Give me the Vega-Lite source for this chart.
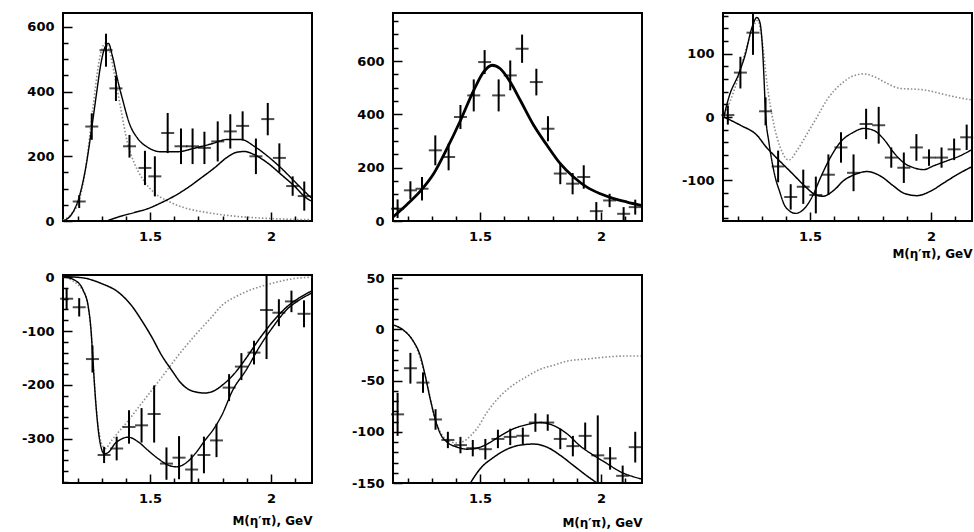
{
  "$schema": "https://vega.github.io/schema/vega-lite/v6.json",
  "background": "white",
  "padding": {"left": 20, "top": 8, "right": 0, "bottom": 0},
  "config": {
    "view": {"stroke": "black", "strokeWidth": 2},
    "axis": {
      "domain": false, "grid": false, "tickColor": "black", "tickWidth": 1.5,
      "labelFont": "DejaVu Sans", "labelFontWeight": "bold", "labelFontSize": 13, "labelColor": "black",
      "labelFlush": false, "labelOverlap": false, "labelPadding": 18,
      "titleFont": "DejaVu Sans", "titleFontWeight": "bold", "titleFontSize": 12, "titleColor": "black"
    },
    "text": {"font": "DejaVu Sans", "fontWeight": "bold", "fontSize": 17, "color": "black"}
  },
  "datasets": {
    "fit_a": [
      {"c":"dot","m":1.14,"v":3},{"c":"dot","m":1.173,"v":20},{"c":"dot","m":1.208,"v":67},{"c":"dot","m":1.235,"v":169},{"c":"dot","m":1.263,"v":344},{"c":"dot","m":1.29,"v":497},{"c":"dot","m":1.314,"v":549},{"c":"dot","m":1.332,"v":528},{"c":"dot","m":1.352,"v":456},{"c":"dot","m":1.38,"v":344},{"c":"dot","m":1.407,"v":241},{"c":"dot","m":1.435,"v":179},{"c":"dot","m":1.476,"v":123},{"c":"dot","m":1.518,"v":87},{"c":"dot","m":1.573,"v":62},{"c":"dot","m":1.642,"v":41},{"c":"dot","m":1.738,"v":26},{"c":"dot","m":1.849,"v":15},{"c":"dot","m":1.987,"v":8},{"c":"dot","m":2.166,"v":4},
      {"c":"part","m":1.32,"v":0},{"c":"part","m":1.38,"v":15},{"c":"part","m":1.435,"v":26},{"c":"part","m":1.49,"v":38},{"c":"part","m":1.545,"v":56},{"c":"part","m":1.6,"v":77},{"c":"part","m":1.656,"v":103},{"c":"part","m":1.711,"v":133},{"c":"part","m":1.766,"v":164},{"c":"part","m":1.821,"v":198},{"c":"part","m":1.856,"v":212},{"c":"part","m":1.89,"v":215},{"c":"part","m":1.931,"v":205},{"c":"part","m":1.987,"v":179},{"c":"part","m":2.042,"v":144},{"c":"part","m":2.097,"v":108},{"c":"part","m":2.145,"v":72},{"c":"part","m":2.166,"v":62},
      {"c":"fit","m":1.14,"v":0},{"c":"fit","m":1.18,"v":26},{"c":"fit","m":1.208,"v":77},{"c":"fit","m":1.235,"v":169},{"c":"fit","m":1.256,"v":272},{"c":"fit","m":1.277,"v":385},{"c":"fit","m":1.297,"v":487},{"c":"fit","m":1.314,"v":538},{"c":"fit","m":1.328,"v":549},{"c":"fit","m":1.345,"v":508},{"c":"fit","m":1.366,"v":436},{"c":"fit","m":1.387,"v":374},{"c":"fit","m":1.414,"v":303},{"c":"fit","m":1.449,"v":255},{"c":"fit","m":1.49,"v":228},{"c":"fit","m":1.545,"v":214},{"c":"fit","m":1.614,"v":214},{"c":"fit","m":1.683,"v":225},{"c":"fit","m":1.752,"v":238},{"c":"fit","m":1.821,"v":252},{"c":"fit","m":1.876,"v":252},{"c":"fit","m":1.931,"v":231},{"c":"fit","m":1.987,"v":200},{"c":"fit","m":2.042,"v":164},{"c":"fit","m":2.097,"v":123},{"c":"fit","m":2.145,"v":87},{"c":"fit","m":2.166,"v":72}
    ],
    "pts_a": [
      {"m":1.207,"v":60,"e":20},{"m":1.259,"v":292,"e":41},{"m":1.318,"v":528,"e":51},{"m":1.359,"v":410,"e":39},{"m":1.415,"v":231,"e":35},{"m":1.479,"v":164,"e":53},{"m":1.52,"v":138,"e":62},{"m":1.573,"v":272,"e":62},{"m":1.628,"v":231,"e":55},{"m":1.676,"v":231,"e":55},{"m":1.725,"v":226,"e":50},{"m":1.78,"v":246,"e":62},{"m":1.832,"v":277,"e":53},{"m":1.883,"v":294,"e":45},{"m":1.938,"v":200,"e":55},{"m":1.987,"v":315,"e":50},{"m":2.035,"v":195,"e":45},{"m":2.09,"v":108,"e":30},{"m":2.138,"v":77,"e":45}
    ],
    "fit_b": [
      {"c":"fit","m":1.14,"v":15},{"c":"fit","m":1.198,"v":62},{"c":"fit","m":1.253,"v":112},{"c":"fit","m":1.308,"v":177},{"c":"fit","m":1.363,"v":271},{"c":"fit","m":1.419,"v":377},{"c":"fit","m":1.474,"v":490},{"c":"fit","m":1.515,"v":559},{"c":"fit","m":1.55,"v":584},{"c":"fit","m":1.584,"v":571},{"c":"fit","m":1.625,"v":521},{"c":"fit","m":1.667,"v":452},{"c":"fit","m":1.722,"v":359},{"c":"fit","m":1.777,"v":284},{"c":"fit","m":1.832,"v":215},{"c":"fit","m":1.887,"v":165},{"c":"fit","m":1.942,"v":127},{"c":"fit","m":1.998,"v":102},{"c":"fit","m":2.053,"v":84},{"c":"fit","m":2.108,"v":71},{"c":"fit","m":2.166,"v":59}
    ],
    "pts_b": [
      {"m":1.159,"v":46,"e":35},{"m":1.212,"v":115,"e":34},{"m":1.26,"v":121,"e":44},{"m":1.315,"v":265,"e":56},{"m":1.37,"v":240,"e":50},{"m":1.419,"v":390,"e":45},{"m":1.474,"v":471,"e":60},{"m":1.519,"v":596,"e":45},{"m":1.577,"v":471,"e":60},{"m":1.625,"v":546,"e":56},{"m":1.674,"v":646,"e":53},{"m":1.733,"v":521,"e":50},{"m":1.781,"v":346,"e":47},{"m":1.832,"v":178,"e":40},{"m":1.883,"v":140,"e":40},{"m":1.929,"v":165,"e":44},{"m":1.981,"v":37,"e":34},{"m":2.036,"v":77,"e":25},{"m":2.094,"v":27,"e":25},{"m":2.142,"v":52,"e":28}
    ],
    "fit_c": [
      {"c":"dot","m":1.143,"v":0},{"c":"dot","m":1.198,"v":56},{"c":"dot","m":1.239,"v":112},{"c":"dot","m":1.267,"v":144},{"c":"dot","m":1.283,"v":152},{"c":"dot","m":1.301,"v":123},{"c":"dot","m":1.322,"v":53},{"c":"dot","m":1.35,"v":-11},{"c":"dot","m":1.377,"v":-48},{"c":"dot","m":1.412,"v":-68},{"c":"dot","m":1.446,"v":-53},{"c":"dot","m":1.487,"v":-27},{"c":"dot","m":1.529,"v":0},{"c":"dot","m":1.57,"v":27},{"c":"dot","m":1.625,"v":51},{"c":"dot","m":1.68,"v":65},{"c":"dot","m":1.722,"v":68},{"c":"dot","m":1.763,"v":64},{"c":"dot","m":1.818,"v":53},{"c":"dot","m":1.873,"v":45},{"c":"dot","m":1.929,"v":44},{"c":"dot","m":1.984,"v":42},{"c":"dot","m":2.039,"v":37},{"c":"dot","m":2.108,"v":31},{"c":"dot","m":2.166,"v":27},
      {"c":"part","m":1.143,"v":0},{"c":"part","m":1.212,"v":-13},{"c":"part","m":1.281,"v":-29},{"c":"part","m":1.32,"v":-48},{"c":"part","m":1.35,"v":-60},{"c":"part","m":1.416,"v":-85},{"c":"part","m":1.487,"v":-112},{"c":"part","m":1.511,"v":-120},{"c":"part","m":1.553,"v":-125},{"c":"part","m":1.6,"v":-115},{"c":"part","m":1.64,"v":-100},{"c":"part","m":1.677,"v":-92},{"c":"part","m":1.736,"v":-86},{"c":"part","m":1.791,"v":-93},{"c":"part","m":1.846,"v":-109},{"c":"part","m":1.887,"v":-120},{"c":"part","m":1.942,"v":-124},{"c":"part","m":1.998,"v":-117},{"c":"part","m":2.053,"v":-104},{"c":"part","m":2.108,"v":-91},{"c":"part","m":2.166,"v":-79},
      {"c":"fit","m":1.143,"v":0},{"c":"fit","m":1.165,"v":32},{"c":"fit","m":1.206,"v":69},{"c":"fit","m":1.234,"v":101},{"c":"fit","m":1.255,"v":135},{"c":"fit","m":1.268,"v":150},{"c":"fit","m":1.28,"v":157},{"c":"fit","m":1.292,"v":150},{"c":"fit","m":1.303,"v":111},{"c":"fit","m":1.31,"v":58},{"c":"fit","m":1.316,"v":6},{"c":"fit","m":1.33,"v":-40},{"c":"fit","m":1.344,"v":-73},{"c":"fit","m":1.358,"v":-98},{"c":"fit","m":1.372,"v":-115},{"c":"fit","m":1.399,"v":-142},{"c":"fit","m":1.441,"v":-152},{"c":"fit","m":1.475,"v":-145},{"c":"fit","m":1.51,"v":-125},{"c":"fit","m":1.543,"v":-96},{"c":"fit","m":1.584,"v":-64},{"c":"fit","m":1.625,"v":-40},{"c":"fit","m":1.68,"v":-24},{"c":"fit","m":1.722,"v":-18},{"c":"fit","m":1.763,"v":-21},{"c":"fit","m":1.805,"v":-35},{"c":"fit","m":1.846,"v":-56},{"c":"fit","m":1.887,"v":-72},{"c":"fit","m":1.929,"v":-80},{"c":"fit","m":1.97,"v":-83},{"c":"fit","m":2.011,"v":-77},{"c":"fit","m":2.067,"v":-69},{"c":"fit","m":2.122,"v":-61},{"c":"fit","m":2.166,"v":-52}
    ],
    "pts_c": [
      {"m":1.16,"v":3,"e":15},{"m":1.212,"v":70,"e":25},{"m":1.264,"v":133,"e":35},{"m":1.316,"v":9,"e":22},{"m":1.368,"v":-78,"e":25},{"m":1.42,"v":-126,"e":20},{"m":1.472,"v":-110,"e":27},{"m":1.524,"v":-123,"e":29},{"m":1.576,"v":-91,"e":32},{"m":1.628,"v":-48,"e":24},{"m":1.68,"v":-88,"e":29},{"m":1.732,"v":-11,"e":24},{"m":1.784,"v":-13,"e":29},{"m":1.836,"v":-64,"e":16},{"m":1.888,"v":-80,"e":24},{"m":1.94,"v":-48,"e":21},{"m":1.992,"v":-64,"e":13},{"m":2.044,"v":-64,"e":16},{"m":2.096,"v":-51,"e":17},{"m":2.148,"v":-32,"e":20}
    ],
    "fit_d": [
      {"c":"dot","m":1.14,"v":1},{"c":"dot","m":1.224,"v":-25},{"c":"dot","m":1.256,"v":-99},{"c":"dot","m":1.277,"v":-241},{"c":"dot","m":1.297,"v":-305},{"c":"dot","m":1.315,"v":-318},{"c":"dot","m":1.341,"v":-303},{"c":"dot","m":1.41,"v":-266},{"c":"dot","m":1.479,"v":-226},{"c":"dot","m":1.548,"v":-186},{"c":"dot","m":1.617,"v":-145},{"c":"dot","m":1.686,"v":-108},{"c":"dot","m":1.755,"v":-74},{"c":"dot","m":1.796,"v":-53},{"c":"dot","m":1.86,"v":-35},{"c":"dot","m":1.926,"v":-22},{"c":"dot","m":2.009,"v":-11},{"c":"dot","m":2.09,"v":-3},{"c":"dot","m":2.167,"v":0},
      {"c":"part","m":1.14,"v":1},{"c":"part","m":1.217,"v":-1},{"c":"part","m":1.3,"v":-12},{"c":"part","m":1.369,"v":-28},{"c":"part","m":1.424,"v":-53},{"c":"part","m":1.465,"v":-80},{"c":"part","m":1.507,"v":-111},{"c":"part","m":1.548,"v":-145},{"c":"part","m":1.59,"v":-173},{"c":"part","m":1.631,"v":-198},{"c":"part","m":1.679,"v":-212},{"c":"part","m":1.727,"v":-215},{"c":"part","m":1.769,"v":-210},{"c":"part","m":1.8,"v":-200},{"c":"part","m":1.843,"v":-182},{"c":"part","m":1.898,"v":-150},{"c":"part","m":1.953,"v":-114},{"c":"part","m":2.009,"v":-82},{"c":"part","m":2.064,"v":-56},{"c":"part","m":2.119,"v":-38},{"c":"part","m":2.167,"v":-26},
      {"c":"fit","m":1.14,"v":1},{"c":"fit","m":1.19,"v":-6},{"c":"fit","m":1.224,"v":-25},{"c":"fit","m":1.245,"v":-56},{"c":"fit","m":1.256,"v":-99},{"c":"fit","m":1.263,"v":-148},{"c":"fit","m":1.27,"v":-198},{"c":"fit","m":1.277,"v":-241},{"c":"fit","m":1.286,"v":-284},{"c":"fit","m":1.297,"v":-315},{"c":"fit","m":1.311,"v":-328},{"c":"fit","m":1.328,"v":-325},{"c":"fit","m":1.355,"v":-309},{"c":"fit","m":1.383,"v":-300},{"c":"fit","m":1.41,"v":-297},{"c":"fit","m":1.452,"v":-306},{"c":"fit","m":1.493,"v":-322},{"c":"fit","m":1.534,"v":-337},{"c":"fit","m":1.576,"v":-349},{"c":"fit","m":1.61,"v":-352},{"c":"fit","m":1.645,"v":-346},{"c":"fit","m":1.686,"v":-328},{"c":"fit","m":1.727,"v":-303},{"c":"fit","m":1.769,"v":-278},{"c":"fit","m":1.796,"v":-257},{"c":"fit","m":1.843,"v":-209},{"c":"fit","m":1.898,"v":-172},{"c":"fit","m":1.953,"v":-129},{"c":"fit","m":2.009,"v":-92},{"c":"fit","m":2.064,"v":-61},{"c":"fit","m":2.119,"v":-42},{"c":"fit","m":2.167,"v":-30}
    ],
    "pts_d": [
      {"m":1.155,"v":-40,"e":20},{"m":1.207,"v":-56,"e":17},{"m":1.262,"v":-152,"e":25},{"m":1.31,"v":-330,"e":15},{"m":1.362,"v":-318,"e":22},{"m":1.413,"v":-278,"e":31},{"m":1.465,"v":-275,"e":32},{"m":1.517,"v":-254,"e":53},{"m":1.568,"v":-346,"e":30},{"m":1.62,"v":-335,"e":40},{"m":1.672,"v":-357,"e":28},{"m":1.723,"v":-330,"e":34},{"m":1.775,"v":-303,"e":31},{"m":1.827,"v":-205,"e":25},{"m":1.878,"v":-166,"e":25},{"m":1.93,"v":-140,"e":22},{"m":1.982,"v":-61,"e":91},{"m":2.033,"v":-66,"e":25},{"m":2.085,"v":-45,"e":20},{"m":2.137,"v":-68,"e":25}
    ],
    "fit_e": [
      {"c":"dot","m":1.145,"v":4},{"c":"dot","m":1.225,"v":-12},{"c":"dot","m":1.274,"v":-46},{"c":"dot","m":1.315,"v":-88},{"c":"dot","m":1.363,"v":-108},{"c":"dot","m":1.405,"v":-111},{"c":"dot","m":1.435,"v":-109},{"c":"dot","m":1.46,"v":-104},{"c":"dot","m":1.487,"v":-97},{"c":"dot","m":1.529,"v":-81},{"c":"dot","m":1.584,"v":-65},{"c":"dot","m":1.639,"v":-54},{"c":"dot","m":1.694,"v":-46},{"c":"dot","m":1.749,"v":-39},{"c":"dot","m":1.805,"v":-35},{"c":"dot","m":1.86,"v":-31},{"c":"dot","m":1.942,"v":-29},{"c":"dot","m":2.025,"v":-27},{"c":"dot","m":2.108,"v":-26},{"c":"dot","m":2.166,"v":-26},
      {"c":"part","m":1.46,"v":-150},{"c":"part","m":1.501,"v":-136},{"c":"part","m":1.556,"v":-125},{"c":"part","m":1.612,"v":-117},{"c":"part","m":1.667,"v":-113},{"c":"part","m":1.722,"v":-112},{"c":"part","m":1.777,"v":-115},{"c":"part","m":1.832,"v":-123},{"c":"part","m":1.887,"v":-133},{"c":"part","m":1.942,"v":-143},{"c":"part","m":1.984,"v":-150},
      {"c":"fit","m":1.145,"v":4},{"c":"fit","m":1.184,"v":-1},{"c":"fit","m":1.225,"v":-12},{"c":"fit","m":1.253,"v":-26},{"c":"fit","m":1.274,"v":-46},{"c":"fit","m":1.294,"v":-68},{"c":"fit","m":1.315,"v":-88},{"c":"fit","m":1.336,"v":-102},{"c":"fit","m":1.363,"v":-110},{"c":"fit","m":1.405,"v":-115},{"c":"fit","m":1.446,"v":-117},{"c":"fit","m":1.487,"v":-116},{"c":"fit","m":1.529,"v":-112},{"c":"fit","m":1.584,"v":-104},{"c":"fit","m":1.639,"v":-97},{"c":"fit","m":1.694,"v":-93},{"c":"fit","m":1.749,"v":-91},{"c":"fit","m":1.805,"v":-94},{"c":"fit","m":1.86,"v":-102},{"c":"fit","m":1.915,"v":-114},{"c":"fit","m":1.97,"v":-123},{"c":"fit","m":2.025,"v":-131},{"c":"fit","m":2.08,"v":-139},{"c":"fit","m":2.136,"v":-144},{"c":"fit","m":2.166,"v":-146}
    ],
    "pts_e": [
      {"m":1.159,"v":-83,"e":21},{"m":1.212,"v":-38,"e":15},{"m":1.264,"v":-52,"e":10},{"m":1.316,"v":-88,"e":10},{"m":1.367,"v":-108,"e":8},{"m":1.419,"v":-113,"e":8},{"m":1.47,"v":-116,"e":8},{"m":1.522,"v":-117,"e":10},{"m":1.574,"v":-107,"e":9},{"m":1.625,"v":-105,"e":8},{"m":1.677,"v":-104,"e":8},{"m":1.729,"v":-91,"e":9},{"m":1.78,"v":-91,"e":8},{"m":1.832,"v":-107,"e":10},{"m":1.884,"v":-114,"e":10},{"m":1.935,"v":-104,"e":13},{"m":1.987,"v":-123,"e":39},{"m":2.038,"v":-126,"e":11},{"m":2.09,"v":-143,"e":10},{"m":2.142,"v":-115,"e":15}
    ]
  },
  "columns": 3,
  "spacing": {"row": 54, "column": 81},
  "bounds": "flush",
  "resolve": {"scale": {"x": "independent", "y": "independent", "color": "independent", "strokeWidth": "independent", "strokeDash": "independent"}},
  "concat": [
    {
      "width": 249, "height": 208,
      "encoding": {
        "x": {"field": "m", "type": "quantitative", "scale": {"domain": [1.14, 2.17], "nice": false, "zero": false},
              "axis": {"title": null, "values": [1.2,1.3,1.4,1.5,1.6,1.7,1.8,1.9,2,2.1], "labelExpr": "datum.value == 1.5 ? '1.5' : datum.value == 2 ? '2' : ''", "tickSize": {"condition": {"test": "datum.value == 1.5 || datum.value == 2", "value": -9}, "value": -5}}},
        "y": {"field": "v", "type": "quantitative", "scale": {"domain": [0, 643], "nice": false, "zero": false, "clamp": true},
              "axis": {"title": null, "values": [0,50,100,150,200,250,300,350,400,450,500,550,600], "labelExpr": "datum.value % 200 == 0 ? '' + datum.value : ''", "tickSize": {"condition": {"test": "datum.value % 200 == 0", "value": -9}, "value": -5}}}
      },
      "layer": [
        {"data": {"name": "fit_a"}, "mark": {"type": "line", "interpolate": "monotone"},
         "encoding": {
           "color": {"field": "c", "type": "nominal", "scale": {"domain": ["dot","part","fit"], "range": ["#8c8c8c","#000000","#000000"]}, "legend": null},
           "strokeWidth": {"field": "c", "type": "nominal", "scale": {"domain": ["dot","part","fit"], "range": [1.6, 1.4, 2.8]}, "legend": null},
           "strokeDash": {"field": "c", "type": "nominal", "scale": {"domain": ["dot","part","fit"], "range": [[1.5,2],[1,0],[1,0]]}, "legend": null}
         }},
        {"data": {"name": "pts_a"}, "mark": {"type": "errorbar", "thickness": 2, "color": "black"}, "encoding": {"yError": {"field": "e"}}},
        {"data": {"name": "pts_a"}, "mark": {"type": "tick", "orient": "horizontal", "size": 13, "thickness": 2, "color": "black"}},
        {"data": {"values": [{}]}, "mark": {"type": "text", "text": "a)", "align": "right", "baseline": "middle"}, "encoding": {"x": {"datum": 2.05}, "y": {"datum": 535}}}
      ]
    },
    {
      "width": 249, "height": 208,
      "encoding": {
        "x": {"field": "m", "type": "quantitative", "scale": {"domain": [1.14, 2.17], "nice": false, "zero": false},
              "axis": {"title": null, "values": [1.2,1.3,1.4,1.5,1.6,1.7,1.8,1.9,2,2.1], "labelExpr": "datum.value == 1.5 ? '1.5' : datum.value == 2 ? '2' : ''", "tickSize": {"condition": {"test": "datum.value == 1.5 || datum.value == 2", "value": -9}, "value": -5}}},
        "y": {"field": "v", "type": "quantitative", "scale": {"domain": [0, 780], "nice": false, "zero": false, "clamp": true},
              "axis": {"title": null, "values": [0,50,100,150,200,250,300,350,400,450,500,550,600,650,700,750], "labelExpr": "datum.value % 200 == 0 && datum.value <= 600 ? '' + datum.value : ''", "tickSize": {"condition": {"test": "datum.value % 200 == 0", "value": -9}, "value": -5}}}
      },
      "layer": [
        {"data": {"name": "fit_b"}, "mark": {"type": "line", "interpolate": "monotone", "color": "black", "strokeWidth": 2.8}},
        {"data": {"name": "pts_b"}, "mark": {"type": "errorbar", "thickness": 2, "color": "black"}, "encoding": {"yError": {"field": "e"}}},
        {"data": {"name": "pts_b"}, "mark": {"type": "tick", "orient": "horizontal", "size": 13, "thickness": 2, "color": "black"}},
        {"data": {"values": [{}]}, "mark": {"type": "text", "text": "b)", "align": "right", "baseline": "middle"}, "encoding": {"x": {"datum": 2.038}, "y": {"datum": 656}}}
      ]
    },
    {
      "width": 249, "height": 208,
      "encoding": {
        "x": {"field": "m", "type": "quantitative", "scale": {"domain": [1.14, 2.17], "nice": false, "zero": false},
              "axis": {"title": "M(η′π), GeV", "titleAnchor": "end", "titlePadding": 1, "values": [1.2,1.3,1.4,1.5,1.6,1.7,1.8,1.9,2,2.1], "labelExpr": "datum.value == 1.5 ? '1.5' : datum.value == 2 ? '2' : ''", "tickSize": {"condition": {"test": "datum.value == 1.5 || datum.value == 2", "value": -9}, "value": -5}}},
        "y": {"field": "v", "type": "quantitative", "scale": {"domain": [-164, 164], "nice": false, "zero": false, "clamp": true},
              "axis": {"title": null, "values": [-160,-140,-120,-100,-80,-60,-40,-20,0,20,40,60,80,100,120,140,160], "labelExpr": "datum.value % 100 == 0 ? '' + datum.value : ''", "tickSize": {"condition": {"test": "datum.value % 100 == 0", "value": -9}, "value": -5}}}
      },
      "layer": [
        {"data": {"name": "fit_c"}, "mark": {"type": "line", "interpolate": "monotone"},
         "encoding": {
           "color": {"field": "c", "type": "nominal", "scale": {"domain": ["dot","part","fit"], "range": ["#8c8c8c","#000000","#000000"]}, "legend": null},
           "strokeWidth": {"field": "c", "type": "nominal", "scale": {"domain": ["dot","part","fit"], "range": [1.6, 1.4, 2.8]}, "legend": null},
           "strokeDash": {"field": "c", "type": "nominal", "scale": {"domain": ["dot","part","fit"], "range": [[1.5,2],[1,0],[1,0]]}, "legend": null}
         }},
        {"data": {"name": "pts_c"}, "mark": {"type": "errorbar", "thickness": 2, "color": "black"}, "encoding": {"yError": {"field": "e"}}},
        {"data": {"name": "pts_c"}, "mark": {"type": "tick", "orient": "horizontal", "size": 13, "thickness": 2, "color": "black"}},
        {"data": {"values": [{}]}, "mark": {"type": "text", "text": "c)", "align": "right", "baseline": "middle"}, "encoding": {"x": {"datum": 2.075}, "y": {"datum": 111}}}
      ]
    },
    {
      "width": 249, "height": 208,
      "encoding": {
        "x": {"field": "m", "type": "quantitative", "scale": {"domain": [1.14, 2.17], "nice": false, "zero": false},
              "axis": {"title": "M(η′π), GeV", "titleAnchor": "end", "titlePadding": 6, "values": [1.2,1.3,1.4,1.5,1.6,1.7,1.8,1.9,2,2.1], "labelExpr": "datum.value == 1.5 ? '1.5' : datum.value == 2 ? '2' : ''", "tickSize": {"condition": {"test": "datum.value == 1.5 || datum.value == 2", "value": -9}, "value": -5}}},
        "y": {"field": "v", "type": "quantitative", "scale": {"domain": [-382, 4], "nice": false, "zero": false, "clamp": true},
              "axis": {"title": null, "values": [-380,-360,-340,-320,-300,-280,-260,-240,-220,-200,-180,-160,-140,-120,-100,-80,-60,-40,-20,0], "labelExpr": "datum.value % 100 == 0 ? '' + datum.value : ''", "tickSize": {"condition": {"test": "datum.value % 100 == 0", "value": -9}, "value": -5}}}
      },
      "layer": [
        {"data": {"name": "fit_d"}, "mark": {"type": "line", "interpolate": "monotone"},
         "encoding": {
           "color": {"field": "c", "type": "nominal", "scale": {"domain": ["dot","part","fit"], "range": ["#8c8c8c","#000000","#000000"]}, "legend": null},
           "strokeWidth": {"field": "c", "type": "nominal", "scale": {"domain": ["dot","part","fit"], "range": [1.6, 1.4, 2.8]}, "legend": null},
           "strokeDash": {"field": "c", "type": "nominal", "scale": {"domain": ["dot","part","fit"], "range": [[1.5,2],[1,0],[1,0]]}, "legend": null}
         }},
        {"data": {"name": "pts_d"}, "mark": {"type": "errorbar", "thickness": 2, "color": "black"}, "encoding": {"yError": {"field": "e"}}},
        {"data": {"name": "pts_d"}, "mark": {"type": "tick", "orient": "horizontal", "size": 13, "thickness": 2, "color": "black"}}
      ]
    },
    {
      "width": 249, "height": 208,
      "encoding": {
        "x": {"field": "m", "type": "quantitative", "scale": {"domain": [1.14, 2.17], "nice": false, "zero": false},
              "axis": {"title": "M(η′π), GeV", "titleAnchor": "end", "titlePadding": 8, "values": [1.2,1.3,1.4,1.5,1.6,1.7,1.8,1.9,2,2.1], "labelExpr": "datum.value == 1.5 ? '1.5' : datum.value == 2 ? '2' : ''", "tickSize": {"condition": {"test": "datum.value == 1.5 || datum.value == 2", "value": -9}, "value": -5}}},
        "y": {"field": "v", "type": "quantitative", "scale": {"domain": [-150, 53], "nice": false, "zero": false, "clamp": true},
              "axis": {"title": null, "values": [-150,-140,-130,-120,-110,-100,-90,-80,-70,-60,-50,-40,-30,-20,-10,0,10,20,30,40,50], "labelExpr": "datum.value % 50 == 0 ? '' + datum.value : ''", "tickSize": {"condition": {"test": "datum.value % 50 == 0", "value": -9}, "value": -5}}}
      },
      "layer": [
        {"data": {"name": "fit_e"}, "mark": {"type": "line", "interpolate": "monotone"},
         "encoding": {
           "color": {"field": "c", "type": "nominal", "scale": {"domain": ["dot","part","fit"], "range": ["#8c8c8c","#000000","#000000"]}, "legend": null},
           "strokeWidth": {"field": "c", "type": "nominal", "scale": {"domain": ["dot","part","fit"], "range": [1.6, 1.4, 2.8]}, "legend": null},
           "strokeDash": {"field": "c", "type": "nominal", "scale": {"domain": ["dot","part","fit"], "range": [[1.5,2],[1,0],[1,0]]}, "legend": null}
         }},
        {"data": {"name": "pts_e"}, "mark": {"type": "errorbar", "thickness": 2, "color": "black"}, "encoding": {"yError": {"field": "e"}}},
        {"data": {"name": "pts_e"}, "mark": {"type": "tick", "orient": "horizontal", "size": 13, "thickness": 2, "color": "black"}},
        {"data": {"values": [{}]}, "mark": {"type": "text", "text": "e)", "align": "right", "baseline": "middle"}, "encoding": {"x": {"datum": 2.05}, "y": {"datum": 13}}}
      ]
    }
  ]
}
